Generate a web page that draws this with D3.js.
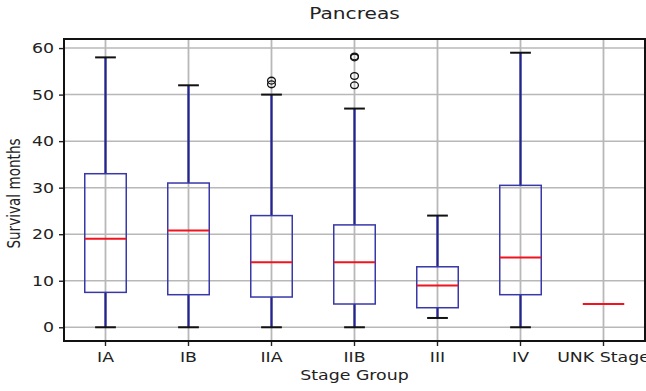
<!DOCTYPE html>
<html>
<head>
<meta charset="utf-8">
<script src="https://cdn.jsdelivr.net/npm/d3@7"></script>
<style>
  body { margin: 0; background: #fff; }
  text { font-family: "DejaVu Sans", sans-serif; fill: #222; }
</style>
</head>
<body>
<div id="chart"></div>
<script>
// stage groups along the x axis
var stages = ["IA", "IB", "IIA", "IIB", "III", "IV", "UNK Stage"];
// box stats per stage (survival months)
var whiskerLow  = [0,  0,  0,  0,  2,  0,    5];
var q1          = [7.5, 7, 6.5, 5,  4.2, 7,  5];
var medians     = [19, 20.8, 14, 14, 9,  15,  5];
var q3          = [33, 31, 24, 22, 13, 30.5, 5];
var whiskerHigh = [58, 52, 50, 47, 24, 59,   5];
// outliers: [stage, value]
var outliers = [["IIA", 52.2], ["IIA", 53], ["IIB", 52], ["IIB", 54], ["IIB", 58], ["IIB", 58.2]];
var yTicks = [0, 10, 20, 30, 40, 50, 60];

// the source picture is stretched sideways, so text gets a horizontal scale
var sx = 1.24;

var margin = {top: 39, right: 1, bottom: 50, left: 64},
    width = 646 - margin.left - margin.right,
    height = 391 - margin.top - margin.bottom;

var svg = d3.select("#chart").append("svg")
    .attr("width", 646)
    .attr("height", 391);

var g = svg.append("g")
    .attr("transform", "translate(" + margin.left + "," + margin.top + ")");

var x = d3.scaleBand().domain(stages).range([0, width]);
var y = d3.scaleLinear().domain([-2.95, 61.95]).range([height, 0]);
var cx = function(s) { return x(s) + x.bandwidth() / 2; };
var boxW = x.bandwidth() * 0.5;

// grid
g.selectAll(".ygrid").data(yTicks).enter().append("line")
    .attr("x1", 0).attr("x2", width)
    .attr("y1", function(d) { return y(d); })
    .attr("y2", function(d) { return y(d); })
    .attr("stroke", "#b8b8b8").attr("stroke-width", 1.5);
g.selectAll(".xgrid").data(stages).enter().append("line")
    .attr("x1", cx).attr("x2", cx)
    .attr("y1", 0).attr("y2", height)
    .attr("stroke", "#b8b8b8").attr("stroke-width", 1.8);

var rows = stages.map(function(s, i) {
    return {s: s, lo: whiskerLow[i], q1: q1[i], med: medians[i], q3: q3[i], hi: whiskerHigh[i]};
});

var box = g.selectAll(".box").data(rows).enter().append("g");

// whiskers
box.append("line")
    .attr("x1", function(d) { return cx(d.s); }).attr("x2", function(d) { return cx(d.s); })
    .attr("y1", function(d) { return y(d.q3); }).attr("y2", function(d) { return y(d.hi); })
    .attr("stroke", "#23238f").attr("stroke-width", 2.3);
box.append("line")
    .attr("x1", function(d) { return cx(d.s); }).attr("x2", function(d) { return cx(d.s); })
    .attr("y1", function(d) { return y(d.q1); }).attr("y2", function(d) { return y(d.lo); })
    .attr("stroke", "#23238f").attr("stroke-width", 2.3);

// caps
["lo", "hi"].forEach(function(k) {
    box.append("line")
        .attr("x1", function(d) { return cx(d.s) - boxW / 4; })
        .attr("x2", function(d) { return cx(d.s) + boxW / 4; })
        .attr("y1", function(d) { return y(d[k]); })
        .attr("y2", function(d) { return y(d[k]); })
        .attr("stroke", "#111").attr("stroke-width", 2);
});

// boxes
box.append("rect")
    .attr("x", function(d) { return cx(d.s) - boxW / 2; })
    .attr("width", boxW)
    .attr("y", function(d) { return y(d.q3); })
    .attr("height", function(d) { return y(d.q1) - y(d.q3); })
    .attr("fill", "none")
    .attr("stroke", "#3838aa").attr("stroke-width", 1.5);

// medians
box.append("line")
    .attr("x1", function(d) { return cx(d.s) - boxW / 2; })
    .attr("x2", function(d) { return cx(d.s) + boxW / 2; })
    .attr("y1", function(d) { return y(d.med); })
    .attr("y2", function(d) { return y(d.med); })
    .attr("stroke", "#f0141e").attr("stroke-width", 2);

// outliers
g.selectAll(".flier").data(outliers).enter().append("ellipse")
    .attr("cx", function(d) { return cx(d[0]); })
    .attr("cy", function(d) { return y(d[1]); })
    .attr("rx", 3.9).attr("ry", 3.4)
    .attr("fill", "none").attr("stroke", "#111").attr("stroke-width", 1.3);

// axes
var yAxis = g.append("g")
    .call(d3.axisLeft(y).tickValues(yTicks).tickSize(5).tickPadding(5));
var xAxis = g.append("g")
    .attr("transform", "translate(0," + height + ")")
    .call(d3.axisBottom(x).tickSize(5).tickPadding(6.5));

[yAxis, xAxis].forEach(function(a) {
    a.select(".domain").remove();
    a.selectAll(".tick line").attr("stroke", "#222").attr("stroke-width", 1.4);
    a.selectAll(".tick text").style("font-size", "14px").attr("fill", "#222")
        .each(function() {
            var t = d3.select(this),
                tx = +t.attr("x") || 0,
                ty = +t.attr("y") || 0;
            t.attr("x", 0).attr("y", 0)
                .attr("transform", "translate(" + tx + "," + ty + ") scale(" + sx + ",1)");
        });
});

// frame
g.append("rect")
    .attr("width", width).attr("height", height)
    .attr("fill", "none").attr("stroke", "#111").attr("stroke-width", 2);

// labels
svg.append("text")
    .attr("transform", "translate(" + (margin.left + width / 2) + ",19) scale(1.3,1)")
    .attr("text-anchor", "middle")
    .style("font-size", "15.5px")
    .text("Pancreas");

svg.append("text")
    .attr("transform", "translate(" + (margin.left + width / 2) + ",380) scale(" + sx + ",1)")
    .attr("text-anchor", "middle")
    .style("font-size", "14px")
    .text("Stage Group");

svg.append("text")
    .attr("transform", "translate(20,193.5) scale(" + sx + ",1) rotate(-90)")
    .attr("text-anchor", "middle")
    .style("font-size", "13.6px")
    .text("Survival months");
</script>
</body>
</html>
